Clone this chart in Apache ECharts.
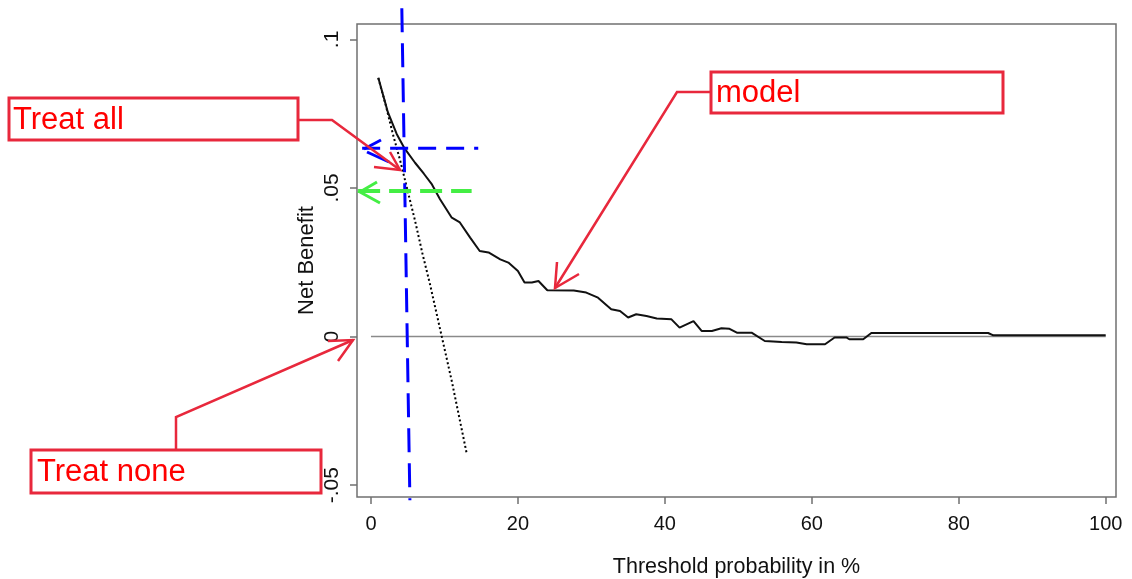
<!DOCTYPE html>
<html>
<head>
<meta charset="utf-8">
<script src="https://cdn.jsdelivr.net/npm/echarts@6/dist/echarts.min.js"></script>
<style>
html,body{margin:0;padding:0;background:#fff;}
#chart{width:1132px;height:579px;}
</style>
</head>
<body>
<div id="chart"></div>
<script>
// ---- data ----
const xTicks = [0, 20, 40, 60, 80, 100];
const yTicks = [-0.05, 0, 0.05, 0.1];
const yTickLabels = ['-.05', '0', '.05', '.1'];

const modelThreshold = [1.0, 2.3, 3.5, 4.5, 6.0, 7.2, 8.3, 9.4, 11.0, 12.1, 13.5, 14.8, 16.0, 17.6, 18.7, 20.0, 20.9, 21.9, 22.8, 24.0, 27.6, 29.3, 30.9, 32.7, 33.9, 35.0, 36.1, 37.5, 38.9, 40.9, 42.0, 43.9, 45.0, 46.4, 47.7, 48.8, 49.8, 51.8, 53.6, 55.9, 57.9, 59.3, 61.8, 63.1, 64.7, 65.1, 67.0, 68.1, 84.0, 84.7, 100];
const modelNetBenefit = [0.0871, 0.0755, 0.0682, 0.0636, 0.0585, 0.0548, 0.0512, 0.0462, 0.0400, 0.0384, 0.0333, 0.0288, 0.0283, 0.0260, 0.0249, 0.0221, 0.0182, 0.0182, 0.0187, 0.0156, 0.0155, 0.0148, 0.0131, 0.0092, 0.0086, 0.0064, 0.0075, 0.0069, 0.0061, 0.0058, 0.0030, 0.0052, 0.0019, 0.0019, 0.0028, 0.0026, 0.0013, 0.0013, -0.0015, -0.0018, -0.0020, -0.0026, -0.0026, -0.0003, -0.0003, -0.0009, -0.0009, 0.0012, 0.0012, 0.0004, 0.0004];

const allThreshold = [1, 2, 3, 4, 5, 6, 7, 8, 9, 10, 11, 12, 13];
const allNetBenefit = [0.087, 0.078, 0.068, 0.059, 0.049, 0.039, 0.028, 0.018, 0.007, -0.004, -0.015, -0.027, -0.039];

const noneThreshold = [0, 100];
const noneNetBenefit = [0, 0];

// annotation reference lines (data coordinates)
const cutoffThreshold = [4.2, 5.3];
const cutoffNetBenefit = [0.1105, -0.0551];
const modelAtCutoffX = [-1.2, 14.6];
const modelAtCutoffY = [0.0634, 0.0634];
const allAtCutoffX = [-1.75, 13.7];
const allAtCutoffY = [0.049, 0.049];

const zip = (a, b) => a.map((v, i) => [v, b[i]]);

const FONT = "'Liberation Sans', Arial, sans-serif";
const RED_BOX = '#e8283c';
const RED_TXT = '#ff0000';

const chart = echarts.init(document.getElementById('chart'), null, {renderer: 'canvas'});

const option = {
  backgroundColor: '#ffffff',
  animation: false,
  grid: {
    left: 357, top: 24, right: 16, bottom: 82,
    outerBoundsMode: 'none', containLabel: false,
    show: true, borderColor: '#707070', borderWidth: 1.5, backgroundColor: '#ffffff'
  },
  xAxis: {
    type: 'value',
    min: -1.9, max: 101.4,
    name: 'Threshold probability in %',
    nameLocation: 'middle',
    nameGap: 59,
    nameTextStyle: {fontFamily: FONT, fontSize: 21.5, color: '#111'},
    axisLine: {show: false, onZero: false},
    axisTick: {show: true, inside: false, length: 7, customValues: xTicks, lineStyle: {color: '#707070', width: 1.5}},
    axisLabel: {customValues: xTicks, fontFamily: FONT, fontSize: 20, color: '#111', margin: 17,
      formatter: v => String(v)},
    splitLine: {show: false}
  },
  yAxis: {
    type: 'value',
    min: -0.054, max: 0.1052,
    name: 'Net Benefit',
    nameLocation: 'middle',
    nameGap: 39,
    nameMoveOverlap: false,
    nameRotate: 90,
    nameTextStyle: {fontFamily: FONT, fontSize: 22, color: '#111'},
    axisLine: {show: false, onZero: false},
    axisTick: {show: true, inside: false, length: 7, customValues: yTicks, lineStyle: {color: '#707070', width: 1.5}},
    axisLabel: {customValues: yTicks, rotate: 90, fontFamily: FONT, fontSize: 21, color: '#111', margin: 14,
      formatter: v => {
        const i = yTicks.findIndex(t => Math.abs(t - v) < 1e-9);
        return i >= 0 ? yTickLabels[i] : '';
      }},
    splitLine: {show: false}
  },
  series: [
    {
      name: 'Treat none', type: 'line', data: zip(noneThreshold, noneNetBenefit),
      symbol: 'none', lineStyle: {color: '#8a8a8a', width: 1.5}, z: 2
    },
    {
      name: 'Treat all', type: 'line', data: zip(allThreshold, allNetBenefit),
      symbol: 'none', lineStyle: {color: '#000', width: 2, type: [2, 2.5]}, z: 3
    },
    {
      name: 'model', type: 'line', data: zip(modelThreshold, modelNetBenefit),
      symbol: 'none', lineStyle: {color: '#111', width: 2}, z: 4
    },
    {
      name: 'cutoff', type: 'line', data: zip(cutoffThreshold, cutoffNetBenefit), clip: false,
      symbol: 'none', lineStyle: {color: '#0000ff', width: 3, type: [24, 11]}, z: 5
    },
    {
      name: 'model at cutoff', type: 'line', data: zip(modelAtCutoffX, modelAtCutoffY), clip: false,
      symbol: 'none', lineStyle: {color: '#0000ff', width: 3, type: [18, 10]}, z: 5
    },
    {
      name: 'all at cutoff', type: 'line', data: zip(allAtCutoffX, allAtCutoffY), clip: false,
      symbol: 'none', lineStyle: {color: '#44ee44', width: 4, type: [22, 9]}, z: 5
    }
  ],
  graphic: [
    // blue & green arrowheads
    {type: 'polyline', z: 100, shape: {points: [[381, 140], [364, 149]]}, style: {stroke: '#0000ff', lineWidth: 3, fill: null}},
    {type: 'polyline', z: 100, shape: {points: [[367, 152], [389, 162]]}, style: {stroke: '#0000ff', lineWidth: 3, fill: null}},
    {type: 'polyline', z: 100, shape: {points: [[377, 182], [360, 192], [380, 203]]}, style: {stroke: '#44ee44', lineWidth: 3, fill: null}},
    // Treat all annotation
    {type: 'rect', z: 100, shape: {x: 9, y: 98, width: 289, height: 42}, style: {fill: '#fff', stroke: RED_BOX, lineWidth: 3}},
    {type: 'text', z: 101, x: 13, y: 120, style: {text: 'Treat all', fill: RED_TXT, font: "31px 'Liberation Sans', Arial, sans-serif", textVerticalAlign: 'middle'}},
    {type: 'polyline', z: 100, shape: {points: [[298, 120], [332, 120], [400, 170]]}, style: {stroke: RED_BOX, lineWidth: 2.5, fill: null}},
    {type: 'polyline', z: 100, shape: {points: [[374, 167], [400, 170], [390, 152]]}, style: {stroke: RED_BOX, lineWidth: 2.5, fill: null}},
    // model annotation
    {type: 'rect', z: 100, shape: {x: 711, y: 72, width: 292, height: 41}, style: {fill: '#fff', stroke: RED_BOX, lineWidth: 3}},
    {type: 'text', z: 101, x: 716, y: 93, style: {text: 'model', fill: RED_TXT, font: "31px 'Liberation Sans', Arial, sans-serif", textVerticalAlign: 'middle'}},
    {type: 'polyline', z: 100, shape: {points: [[711, 92], [677, 92], [555, 288]]}, style: {stroke: RED_BOX, lineWidth: 2.5, fill: null}},
    {type: 'polyline', z: 100, shape: {points: [[557, 262], [555, 288], [579, 274]]}, style: {stroke: RED_BOX, lineWidth: 2.5, fill: null}},
    // Treat none annotation
    {type: 'rect', z: 100, shape: {x: 31, y: 450, width: 290, height: 43}, style: {fill: '#fff', stroke: RED_BOX, lineWidth: 3}},
    {type: 'text', z: 101, x: 37, y: 472, style: {text: 'Treat none', fill: RED_TXT, font: "31px 'Liberation Sans', Arial, sans-serif", textVerticalAlign: 'middle'}},
    {type: 'polyline', z: 100, shape: {points: [[176, 450], [176, 417], [353, 340]]}, style: {stroke: RED_BOX, lineWidth: 2.5, fill: null}},
    {type: 'polyline', z: 100, shape: {points: [[328, 341], [353, 340], [338, 361]]}, style: {stroke: RED_BOX, lineWidth: 2.5, fill: null}}
  ]
};
chart.setOption(option);
</script>
</body>
</html>
